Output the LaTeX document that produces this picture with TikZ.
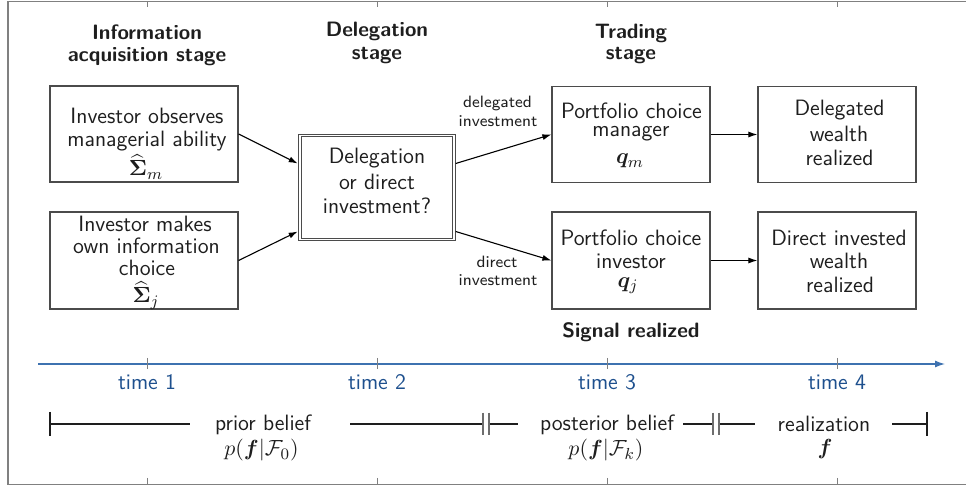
\documentclass[tikz,border=0pt]{standalone}
\usepackage{amsmath,bm}
\usetikzlibrary{arrows.meta}
\definecolor{tlblue}{RGB}{62,114,176}
\definecolor{tlab}{RGB}{30,80,142}
\definecolor{boxc}{RGB}{75,75,75}
\definecolor{txtc}{RGB}{30,30,30}
\definecolor{framec}{RGB}{128,128,128}
\definecolor{barc}{RGB}{110,110,110}
\tikzset{
 box/.style={draw=boxc,line width=0.6pt,inner sep=0pt,minimum width=79pt,minimum height=48pt},
 dbox/.style={draw=boxc,line width=0.5pt,double,double distance=0.85pt,inner sep=0pt,outer sep=1pt,minimum width=77pt,minimum height=52pt},
 tx/.style={anchor=base,inner sep=0pt,text=txtc,font=\sffamily\fontsize{11.1}{13}\selectfont},
 hd/.style={anchor=base,inner sep=0pt,text=txtc,font=\sffamily\bfseries\fontsize{10.4}{12}\selectfont},
 sm/.style={anchor=base,inner sep=0pt,text=txtc,font=\sffamily\fontsize{8.2}{10}\selectfont},
 tm/.style={anchor=base,inner sep=0pt,text=tlab,font=\sffamily\fontsize{11.1}{13}\selectfont},
 arr/.style={-{Latex[length=4.5pt,width=3pt]},line width=0.55pt,draw=black},
 tline/.style={draw=tlblue,line width=0.65pt,-{Latex[length=5pt,width=3.5pt]}},
 tickm/.style={draw=gray,line width=0.5pt},
 brk/.style={draw=txtc,line width=0.55pt},
 dbar/.style={draw=barc,line width=0.9pt},
 frm/.style={draw=framec,line width=0.75pt}
}
\begin{document}
\begin{tikzpicture}[x=0.5pt,y=-0.5pt]
\useasboundingbox (0,0) rectangle (966,486);
% frame
\draw[frm] (966,1.5) -- (8,1.5) -- (8,484.5) -- (966,484.5);
\foreach \x in {147,377,607,837}{
  \draw[frm,line width=0.5pt] (\x,1.5) -- (\x,7.5);
  \draw[frm,line width=0.5pt] (\x,478) -- (\x,484.5);
}
% headings
\node[hd] (h1a) at (147,39.5) {Information};
\node[hd] (h1b) at (147,61.5) {acquisition stage};
\node[hd] (h2a) at (377,37) {Delegation};
\node[hd] (h2b) at (377,59.5) {stage};
\node[hd] (h3a) at (631,38.5) {Trading};
\node[hd] (h3b) at (631,60) {stage};
% boxes
\node[box,minimum width=94pt] (A) at (144,134) {};
\node[box,minimum width=94pt,minimum height=48.5pt] (B) at (144,260.5) {};
\node[dbox] (C) at (376.7,187.5) {};
\node[box] (D) at (631,134.5) {};
\node[box] (E) at (837,134.5) {};
\node[box,minimum height=48.5pt] (F) at (631,260.5) {};
\node[box,minimum height=48.5pt] (G) at (837,260.5) {};
% box texts
\node[tx] (a1) at (147,124) {Investor observes};
\node[tx] (a2) at (147,147) {managerial ability};
\node[tx] (a3) at (146,176) {$\widehat{\bm{\Sigma}}_m$};
\node[tx] (b1) at (145,232) {Investor makes};
\node[tx] (b2) at (146.5,253.5) {own information};
\node[tx] (b3) at (147,276) {choice};
\node[tx] (b4) at (146,303) {$\widehat{\bm{\Sigma}}_j$};
\node[tx] (c1) at (377,164) {Delegation};
\node[tx] (c2) at (377,190) {or direct};
\node[tx] (c3) at (377,214) {investment?};
\node[tx] (d1) at (631.5,118.7) {Portfolio choice};
\node[tx] (d2) at (631,136.7) {manager};
\node[tx] (d3) at (630,164) {$\bm{q}_m$};
\node[tx] (e1) at (839.5,116) {Delegated};
\node[tx] (e2) at (839,142) {wealth};
\node[tx] (e3) at (839.5,166) {realized};
\node[tx] (f1) at (631,245.7) {Portfolio choice};
\node[tx] (f2) at (631,269) {investor};
\node[tx] (f3) at (628,287.5) {$\bm{q}_j$};
\node[tx] (g1) at (839,245.7) {Direct invested};
\node[tx] (g2) at (839,269) {wealth};
\node[tx] (g3) at (840,292.3) {realized};
% arrows
\draw[arr] (A.east) -- ([yshift=12pt]C.west);
\draw[arr] (B.east) -- ([yshift=-22pt]C.west);
\draw[arr] ([yshift=12pt]C.east) -- (D.west);
\draw[arr] ([yshift=-22pt]C.east) -- (F.west);
\draw[arr] (D.east) -- (E.west);
\draw[arr] (F.east) -- (G.west);
\node[sm] (l1) at (497.5,108) {delegated};
\node[sm] (l2) at (498,126.5) {investment};
\node[sm] (l3) at (497,268) {direct};
\node[sm] (l4) at (498,286) {investment};
\node[hd] (sig) at (631,338) {Signal realized};
% timeline
\coordinate (ts) at (38,364);
\coordinate (te) at (945,364);
\draw[tline] (ts) -- (te);
\foreach \x in {147,377,607,837}{\draw[tickm] (\x,358) -- (\x,369);}
\node[tm] (t1) at (147,390) {time 1};
\node[tm] (t2) at (377,390) {time 2};
\node[tm] (t3) at (607,390) {time 3};
\node[tm] (t4) at (837,390) {time 4};
% brackets
\coordinate (k0) at (50,424);
\coordinate (k1) at (190,424);
\coordinate (k2) at (350,424);
\coordinate (k3) at (483,424);
\coordinate (k4) at (489,424);
\coordinate (k5) at (518,424);
\coordinate (k6) at (683,424);
\coordinate (k7) at (713,424);
\coordinate (k8) at (719,424);
\coordinate (k9) at (755,424);
\coordinate (k10) at (892,424);
\coordinate (k11) at (927,424);
\draw[brk] (k0) -- (k1);
\draw[brk] (k2) -- (k3);
\draw[brk] (k4) -- (k5);
\draw[brk] (k6) -- (k7);
\draw[brk] (k8) -- (k9);
\draw[brk] (k10) -- (k11);
\draw[brk] ([yshift=6pt]k0) -- ([yshift=-6pt]k0);
\draw[brk] ([yshift=6pt]k11) -- ([yshift=-6pt]k11);
\draw[dbar] ([yshift=5.7pt]k3) -- ([yshift=-5.7pt]k3);
\draw[dbar] ([yshift=5.7pt]k4) -- ([yshift=-5.7pt]k4);
\draw[dbar] ([yshift=5.7pt]k7) -- ([yshift=-5.7pt]k7);
\draw[dbar] ([yshift=5.7pt]k8) -- ([yshift=-5.7pt]k8);
\node[tx] (p1) at (263,431) {prior belief};
\node[tx] (p2) at (261.5,456) {$p(\bm{f}|\mathcal{F}_0)$};
\node[tx] (q1) at (607,431) {posterior belief};
\node[tx] (q2) at (606,456) {$p(\bm{f}|\mathcal{F}_k)$};
\node[tx] (r1) at (824,432) {realization};
\node[tx] (r2) at (825,455) {$\bm{f}$};
\end{tikzpicture}
\end{document}
